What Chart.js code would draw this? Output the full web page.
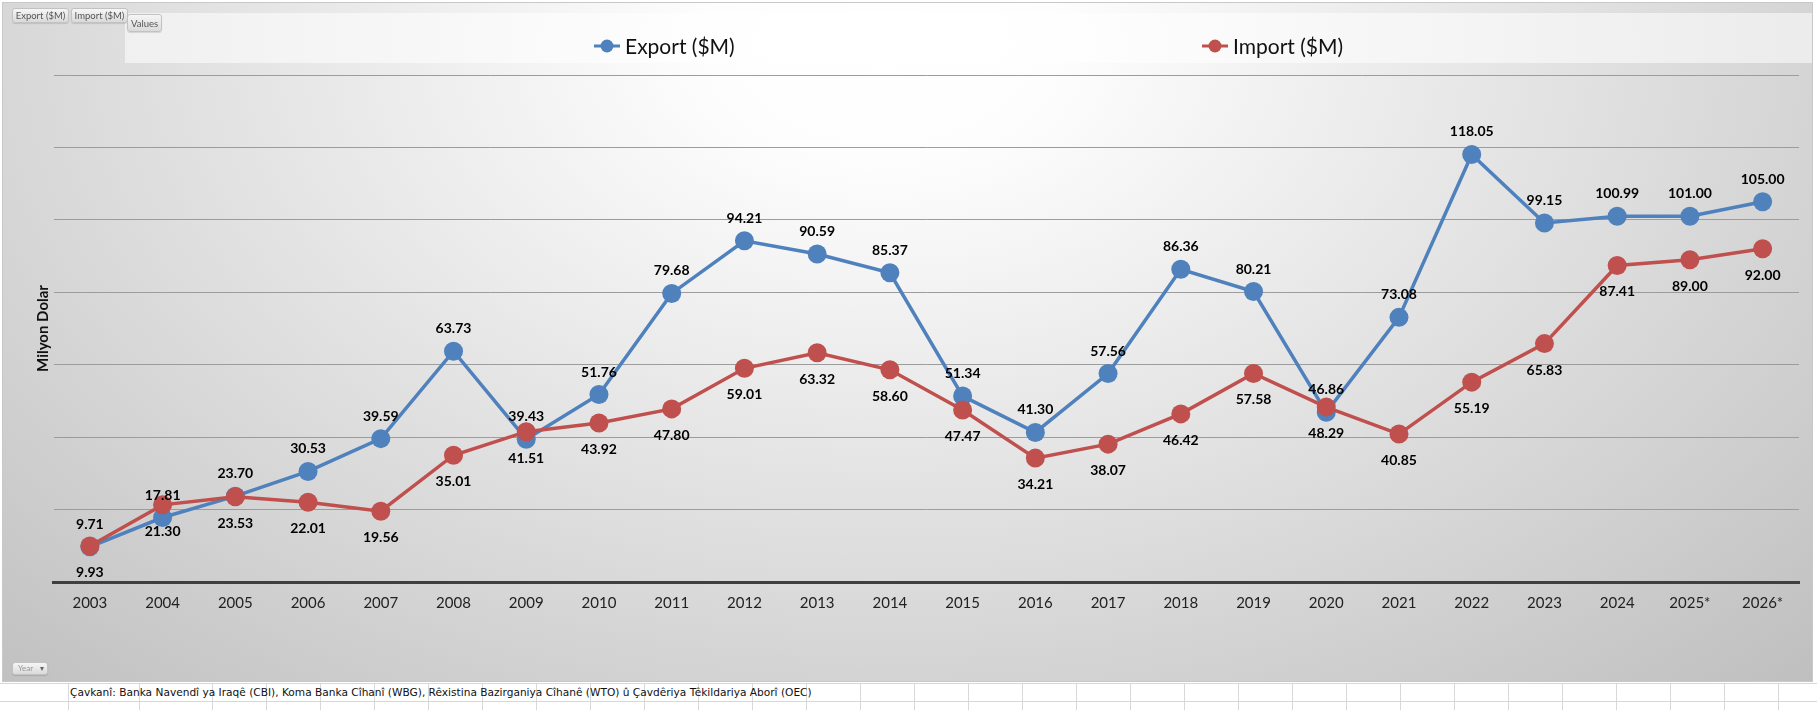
<!DOCTYPE html>
<html>
<head>
<meta charset="utf-8">
<title>Export / Import ($M)</title>
<script src="https://cdn.jsdelivr.net/npm/chart.js@4.4.1/dist/chart.umd.min.js"></script>
<style>
  html, body { margin: 0; padding: 0; background: #fff; }
  #page { position: relative; width: 1817px; height: 710px; overflow: hidden; font-family: Lato, sans-serif; }
  #sheet { position: absolute; left: 0; top: 0; width: 1817px; height: 710px; }
  .gl { position: absolute; background: #d6d8da; }
  #box { position: absolute; left: 2px; top: 2px; width: 1809px; height: 678px; border: 1px solid #c8c8c8; }
  #box canvas { display: block; }
  .fb {
    position: absolute; box-sizing: border-box; font: 9.5px Lato, sans-serif; color: #555;
    background: linear-gradient(#f6f6f6, #dadada); border: 1px solid #c2c2c2; border-radius: 3px;
    box-shadow: 0 1px 1px rgba(0,0,0,0.12); text-align: center; white-space: nowrap;
  }
  #src { position: absolute; left: 70px; top: 686px; font: 10.6px "DejaVu Sans", sans-serif; color: #111; white-space: nowrap; }
</style>
</head>
<body>
<div id="page">
  <div id="sheet"></div>
  <div id="box"><canvas id="chart" width="1809" height="678"></canvas></div>
  <div class="fb" style="left:12px;top:8px;width:57px;height:15px;line-height:13px;">Export ($M)</div>
  <div class="fb" style="left:71px;top:8px;width:57px;height:15px;line-height:13px;">Import ($M)</div>
  <div class="fb" style="left:127px;top:14px;width:35px;height:18px;line-height:17px;">Values</div>
  <div class="fb" style="left:12px;top:662px;width:36px;height:13px;line-height:11px;font-size:8px;color:#999;text-align:left;padding-left:5px;">Year <span style="color:#666;margin-left:5px;">&#9662;</span></div>
  <div id="src">Çavkanî: Banka Navendî ya Iraqê (CBI), Koma Banka Cîhanî (WBG), Rêxistina Bazirganiya Cîhanê (WTO) û Çavdêriya Têkildariya Aborî (OEC)</div>
</div>
<script>
(function () {
  "use strict";

  var years = ["2003", "2004", "2005", "2006", "2007", "2008", "2009", "2010", "2011", "2012", "2013", "2014",
               "2015", "2016", "2017", "2018", "2019", "2020", "2021", "2022", "2023", "2024", "2025*", "2026*"];
  var exportVals = [9.71, 17.81, 23.70, 30.53, 39.59, 63.73, 39.43, 51.76, 79.68, 94.21, 90.59, 85.37,
                    51.34, 41.30, 57.56, 86.36, 80.21, 46.86, 73.08, 118.05, 99.15, 100.99, 101.00, 105.00];
  var importVals = [9.93, 21.30, 23.53, 22.01, 19.56, 35.01, 41.51, 43.92, 47.80, 59.01, 63.32, 58.60,
                    47.47, 34.21, 38.07, 46.42, 57.58, 48.29, 40.85, 55.19, 65.83, 87.41, 89.00, 92.00];
  var yMin = 0, yMax = 140, yStep = 20;

  var blue = "#4f81bd";
  var red = "#c0504d";

  // spreadsheet grid behind/below the chart
  var sheet = document.getElementById("sheet");
  function line(l, t, w, h) {
    var d = document.createElement("div");
    d.className = "gl";
    d.style.left = l + "px"; d.style.top = t + "px";
    d.style.width = w + "px"; d.style.height = h + "px";
    sheet.appendChild(d);
  }
  line(0, 683, 1817, 1);
  line(0, 701, 1817, 1);
  var cols = [68, 139];
  for (var c = 212; c < 1817; c += 54) cols.push(c);
  cols.forEach(function (x) { line(x, 683, 1, 27); });

  var bgPlugin = {
    id: "bg",
    beforeDraw: function (chart) {
      var ctx = chart.ctx, w = chart.width, h = chart.height;
      var cx = 880, cy = 40, sx = 1.5;
      ctx.save();
      ctx.translate(cx, cy);
      ctx.scale(sx, 1);
      var g = ctx.createRadialGradient(0, 0, 0, 0, 0, 1000);
      g.addColorStop(0, "#ffffff");
      g.addColorStop(0.12, "#fdfdfd");
      g.addColorStop(1, "#b6b6b6");
      ctx.fillStyle = g;
      ctx.fillRect(-cx / sx, -cy, w / sx, h);
      ctx.restore();
      // legend band
      ctx.fillStyle = "rgba(255,255,255,0.55)";
      ctx.fillRect(122, 10, w - 122, 50);
    }
  };

  var legendItems = [
    { ds: 0, cx: 604, text: 622 },
    { ds: 1, cx: 1212, text: 1230 }
  ];
  var legendPlugin = {
    id: "sideLegend",
    afterDraw: function (chart) {
      var ctx = chart.ctx;
      ctx.save();
      legendItems.forEach(function (it) {
        var ds = chart.data.datasets[it.ds];
        ctx.strokeStyle = ds.borderColor;
        ctx.lineWidth = 3;
        ctx.beginPath();
        ctx.moveTo(it.cx - 13, 43);
        ctx.lineTo(it.cx + 13, 43);
        ctx.stroke();
        ctx.fillStyle = ds.borderColor;
        ctx.beginPath();
        ctx.arc(it.cx, 43, 6.5, 0, Math.PI * 2);
        ctx.fill();
        ctx.fillStyle = "#111";
        ctx.font = "21px Lato";
        ctx.textAlign = "left";
        ctx.textBaseline = "alphabetic";
        ctx.fillText(ds.label, it.text, 51);
      });
      ctx.restore();
    }
  };

  // value labels: export above the point, import below
  var labelPlugin = {
    id: "valueLabels",
    afterDatasetsDraw: function (chart) {
      var ctx = chart.ctx;
      ctx.save();
      ctx.font = "bold 14px Lato";
      ctx.fillStyle = "#000";
      ctx.textAlign = "center";
      ctx.textBaseline = "alphabetic";
      chart.data.datasets.forEach(function (ds, i) {
        var meta = chart.getDatasetMeta(i);
        var dy = i === 0 ? -18 : 31;
        meta.data.forEach(function (pt, j) {
          ctx.fillText(ds.data[j].toFixed(2), pt.x, pt.y + dy);
        });
      });
      ctx.restore();
    }
  };

  new Chart(document.getElementById("chart"), {
    type: "line",
    data: {
      labels: years,
      datasets: [
        {
          label: "Export ($M)",
          data: exportVals,
          borderColor: blue,
          backgroundColor: blue,
          borderWidth: 3.5,
          pointRadius: 9.5,
          pointBorderWidth: 0,
          pointBackgroundColor: blue,
          tension: 0,
          order: 1
        },
        {
          label: "Import ($M)",
          data: importVals,
          borderColor: red,
          backgroundColor: red,
          borderWidth: 3.5,
          pointRadius: 9.5,
          pointBorderWidth: 0,
          pointBackgroundColor: red,
          tension: 0,
          order: 0
        }
      ]
    },
    options: {
      responsive: false,
      animation: false,
      events: [],
      layout: { padding: { left: 0, top: 72, right: 13, bottom: 57 } },
      plugins: { legend: { display: false }, tooltip: { enabled: false } },
      scales: {
        x: {
          offset: true,
          grid: { display: false, drawTicks: false },
          border: { display: true, color: "#3f3f3f", width: 3 },
          ticks: { color: "#222", font: { family: "Lato", size: 15 }, padding: 12, maxRotation: 0, autoSkip: false }
        },
        y: {
          min: yMin,
          max: yMax,
          grid: { color: "#9c9c9c", lineWidth: 1, drawTicks: false },
          border: { display: false },
          ticks: { display: false, stepSize: yStep },
          title: {
            display: true,
            text: "Milyon Dolar",
            color: "#111",
            font: { family: "Lato", size: 15, weight: "bold", lineHeight: 1.2 },
            padding: { top: 31, bottom: 1.5 }
          }
        }
      }
    },
    plugins: [bgPlugin, legendPlugin, labelPlugin]
  });
})();
</script>
</body>
</html>
